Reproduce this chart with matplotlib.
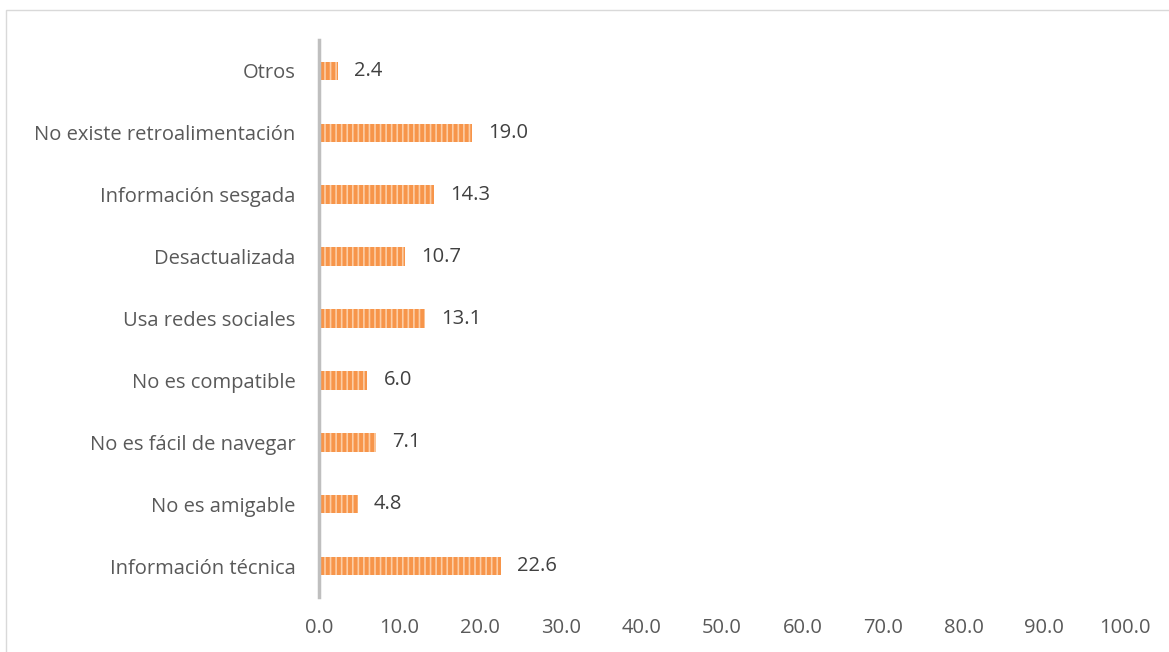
import matplotlib
matplotlib.use("Agg")
import matplotlib.pyplot as plt
from matplotlib.patches import Rectangle

plt.rcParams["font.family"] = ["Open Sans", "DejaVu Sans"]
plt.rcParams["hatch.linewidth"] = 1.2

# datos (de abajo hacia arriba)
categorias = ["Información técnica", "No es amigable", "No es fácil de navegar",
              "No es compatible", "Usa redes sociales", "Desactualizada",
              "Información sesgada", "No existe retroalimentación", "Otros"]
valores = [22.6, 4.8, 7.1, 6.0, 13.1, 10.7, 14.3, 19.0, 2.4]
ticks_x = [0, 10, 20, 30, 40, 50, 60, 70, 80, 90, 100]

fig = plt.figure(figsize=(11.69, 6.52), dpi=100)
ax = fig.add_axes([319 / 1169, 55 / 652, (1125 - 319) / 1169, (612 - 55) / 652])

pos = range(len(categorias))
ax.barh(pos, valores, height=0.3, color="#F7954A", edgecolor="#FCCDA5",
        hatch="|||", linewidth=0, zorder=2)

for y, v in zip(pos, valores):
    ax.text(v + 2.0, y, f"{v:.1f}", va="center", ha="left",
            fontsize=14.5, color="#404040")

ax.set_xlim(0, 100)
ax.set_ylim(-0.5, len(categorias) - 0.5)
ax.set_xticks(ticks_x)
ax.set_xticklabels([f"{t:.1f}" for t in ticks_x])
ax.set_yticks(list(pos))
ax.set_yticklabels(categorias)
ax.tick_params(axis="both", length=0, labelsize=14.5, colors="#595959")
ax.tick_params(axis="x", pad=15)
ax.tick_params(axis="y", pad=17)

for s in ["top", "right", "bottom"]:
    ax.spines[s].set_visible(False)
ax.spines["left"].set_color("#BFBFBF")
ax.spines["left"].set_linewidth(2.5)

# marco del gráfico
fig.patches.append(Rectangle((6 / 1169, -0.1), 1.2, 1 - 10 / 652 + 0.1,
                             transform=fig.transFigure, fill=False,
                             edgecolor="#D9D9D9", linewidth=1.0))

fig.savefig("out.png", dpi=100)
